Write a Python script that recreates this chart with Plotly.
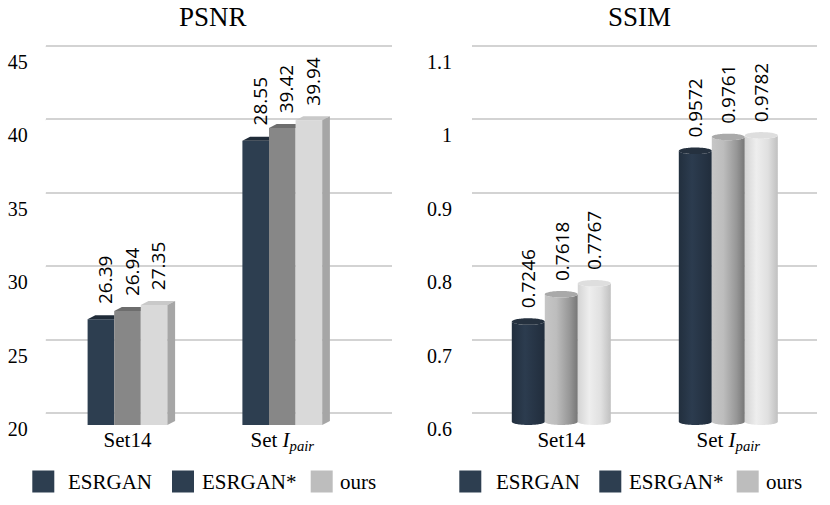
import numpy as np
import plotly.graph_objects as go

# ---------------- data ----------------
categories = ["Set14", "Set <i>I</i><sub><i>pair</i></sub>"]
series_names = ["ESRGAN", "ESRGAN*", "ours"]

psnr_esrgan = [26.39, 38.55]
psnr_esrgan_star = [26.94, 39.42]
psnr_ours = [27.35, 39.94]
psnr_label_esrgan = ["26.39", "28.55"]
psnr_label_esrgan_star = ["26.94", "39.42"]
psnr_label_ours = ["27.35", "39.94"]

ssim_esrgan = [0.7246, 0.9572]
ssim_esrgan_star = [0.7618, 0.9761]
ssim_ours = [0.7767, 0.9782]
ssim_label_esrgan = ["0.7246", "0.9572"]
ssim_label_esrgan_star = ["0.7618", "0.9761"]
ssim_label_ours = ["0.7767", "0.9782"]

psnr_ticks = [20, 25, 30, 35, 40, 45]
psnr_tick_text = ["20", "25", "30", "35", "40", "45"]
ssim_ticks = [0.6, 0.7, 0.8, 0.9, 1.0, 1.1]
ssim_tick_text = ["0.6", "0.7", "0.8", "0.9", "1", "1.1"]

# ---------------- styling / layout constants ----------------
W, H = 830, 505
PLOT_TOP, PLOT_BOT = 44, 425
L_X0, L_X1 = 45.7, 391.7
R_X0, R_X1 = 472, 817
L_SCALE = 154.8   # px per category unit (left)
R_SCALE = 167.0   # px per category unit (right)
L_CENTER0 = 127.5
R_CENTER0 = 561.3
PSNR_RANGE = [19.18, 45.14]
SSIM_RANGE = [0.5837, 1.1027]

SERIF = "Liberation Serif, Times New Roman, serif"
SANS = "Open Sans, sans-serif"
GRID = "#d3d3d3"

bar_front = ["#2d3e50", "#878787", "#d9d9d9"]
bar_top = ["#1f2b38", "#6d6d6d", "#c9c9c9"]
bar_side = "#a6a6a6"

cyl_body = [
    [[0, "#222f3e"], [0.4, "#2c3c4f"], [1, "#212d3c"]],
    [[0, "#c6c6c6"], [0.35, "#bdbdbd"], [0.75, "#979797"], [1, "#767676"]],
    [[0, "#d4d4d4"], [0.35, "#eeeeee"], [0.7, "#e0e0e0"], [1, "#c0c0c0"]],
]
cyl_top = ["#25313f", "#a9a9a9", "#dedede"]
legend_colors = ["#2d3e50", "#2d3e50", "#bdbdbd"]


def px_x_to_paper(px):
    return px / W


def px_y_to_paper(py):
    return (H - py) / H


l_range = [-(L_CENTER0 - L_X0) / L_SCALE, -(L_CENTER0 - L_X0) / L_SCALE + (L_X1 - L_X0) / L_SCALE]
r_range = [-(R_CENTER0 - R_X0) / R_SCALE, -(R_CENTER0 - R_X0) / R_SCALE + (R_X1 - R_X0) / R_SCALE]

k_psnr = (PLOT_BOT - PLOT_TOP) / (PSNR_RANGE[1] - PSNR_RANGE[0])
k_ssim = (PLOT_BOT - PLOT_TOP) / (SSIM_RANGE[1] - SSIM_RANGE[0])

fig = go.Figure()

# ---------------- PSNR: 3D box bars ----------------
psnr_series = [psnr_esrgan, psnr_esrgan_star, psnr_ours]
psnr_labels = [psnr_label_esrgan, psnr_label_esrgan_star, psnr_label_ours]
bw = 26.6 / L_SCALE
dx = 7.7 / L_SCALE
dy = 4.0 / k_psnr
xcat = list(range(len(categories)))

for i, vals in enumerate(psnr_series):
    fig.add_trace(go.Bar(
        x=xcat, y=vals, width=bw, offset=(i - 1.5) * bw,
        marker=dict(color=bar_front[i], line=dict(width=0)),
        xaxis="x", yaxis="y", showlegend=False, hoverinfo="skip",
    ))

annotations = []
for c in xcat:
    for i, vals in enumerate(psnr_series):
        v = vals[c]
        x0 = c + (i - 1.5) * bw
        x1 = x0 + bw
        last = (i == len(psnr_series) - 1)
        if not last and psnr_series[i + 1][c] >= v:
            tx = [x0, x1, x1, x0 + dx, x0]
            ty = [v, v, v + dy, v + dy, v]
        else:
            tx = [x0, x1, x1 + dx, x0 + dx, x0]
            ty = [v, v, v + dy, v + dy, v]
        fig.add_trace(go.Scatter(x=tx, y=ty, fill="toself", mode="none",
                                 fillcolor=bar_top[i], xaxis="x", yaxis="y",
                                 showlegend=False, hoverinfo="skip"))
        if last:
            sx = [x1, x1, x1 + dx, x1 + dx, x1]
            sy = [PSNR_RANGE[0], v, v + dy, PSNR_RANGE[0] + dy, PSNR_RANGE[0]]
            fig.add_trace(go.Scatter(x=sx, y=sy, fill="toself", mode="none",
                                     fillcolor=bar_side, xaxis="x", yaxis="y",
                                     showlegend=False, hoverinfo="skip"))
        annotations.append(dict(
            x=(x0 + x1) / 2, y=v, xref="x", yref="y", text=psnr_labels[i][c],
            textangle=-90, showarrow=False, xanchor="center", yanchor="bottom",
            xshift=4, yshift=13, font=dict(family=SANS, size=19, color="#000000"),
        ))

# ---------------- SSIM: cylinders ----------------
ssim_series = [ssim_esrgan, ssim_esrgan_star, ssim_ours]
ssim_labels = [ssim_label_esrgan, ssim_label_esrgan_star, ssim_label_ours]
cw = 33.0 / R_SCALE
hw = cw / 2
ry = 3.3 / k_ssim
floor = SSIM_RANGE[0] + ry
t = np.linspace(0, np.pi, 40)
t2 = np.linspace(0, 2 * np.pi, 80)

for c in xcat:
    for i, vals in enumerate(ssim_series):
        v = vals[c]
        xc = c + (i - 1) * cw
        bx = xc - hw * np.cos(t)
        by = floor - ry * np.sin(t)
        tx = xc + hw * np.cos(t)
        ty = v - ry * np.sin(t)
        xs = np.concatenate([[xc - hw], bx, tx])
        ys = np.concatenate([[v], by, ty])
        fig.add_trace(go.Scatter(
            x=xs, y=ys, fill="toself", mode="none",
            fillgradient=dict(type="horizontal", colorscale=cyl_body[i]),
            xaxis="x2", yaxis="y2", showlegend=False, hoverinfo="skip"))
        ex = xc + hw * np.cos(t2)
        ey = v + ry * np.sin(t2)
        fig.add_trace(go.Scatter(
            x=ex, y=ey, fill="toself", mode="none", fillcolor=cyl_top[i],
            xaxis="x2", yaxis="y2", showlegend=False, hoverinfo="skip"))
        annotations.append(dict(
            x=xc, y=v, xref="x2", yref="y2", text=ssim_labels[i][c],
            textangle=-90, showarrow=False, xanchor="center", yanchor="bottom",
            xshift=0, yshift=11, font=dict(family=SANS, size=19, color="#000000"),
        ))

# ---------------- titles ----------------
annotations.append(dict(x=px_x_to_paper(213), y=px_y_to_paper(17), xref="paper", yref="paper",
                        text="PSNR", showarrow=False, xanchor="center", yanchor="middle",
                        font=dict(family=SERIF, size=27, color="#000000")))
annotations.append(dict(x=px_x_to_paper(639), y=px_y_to_paper(17), xref="paper", yref="paper",
                        text="SSIM", showarrow=False, xanchor="center", yanchor="middle",
                        font=dict(family=SERIF, size=27, color="#000000")))

# ---------------- legends (one under each panel) ----------------
shapes = []
legend_layouts = [
    ([32.3, 172.0, 310.7], [66.0, 200.0, 337.5]),
    ([459.3, 599.3, 736.7], [493.5, 627.0, 763.5]),
]
for sq_x, txt_x in legend_layouts:
    for j, name in enumerate(series_names):
        shapes.append(dict(type="rect", xref="paper", yref="paper",
                           x0=px_x_to_paper(sq_x[j]), x1=px_x_to_paper(sq_x[j] + 22),
                           y0=px_y_to_paper(492.5), y1=px_y_to_paper(470.5),
                           fillcolor=legend_colors[j], line=dict(width=0)))
        annotations.append(dict(x=px_x_to_paper(txt_x[j]), y=px_y_to_paper(482), xref="paper",
                                yref="paper", text=name, showarrow=False, xanchor="left",
                                yanchor="middle", font=dict(family=SERIF, size=21, color="#000000")))

# ---------------- perspective stubs at the grid lines ----------------
for ticks, xa, ya, rng in [(psnr_ticks, "x", "y", l_range), (ssim_ticks, "x2", "y2", r_range)]:
    for tv in ticks:
        shapes.append(dict(type="line", xref=xa, yref=ya, xsizemode="pixel", ysizemode="pixel",
                           xanchor=rng[0], yanchor=tv, x0=-12.4, x1=0, y0=-9, y1=0,
                           line=dict(color=GRID, width=1.5)))

axis_common = dict(showline=False, zeroline=False, ticks="", automargin=False)
fig.update_layout(
    template="none",
    width=W, height=H,
    margin=dict(l=0, r=0, t=0, b=0, autoexpand=False),
    paper_bgcolor="white", plot_bgcolor="white",
    barmode="overlay",
    showlegend=False,
    hovermode=False,
    xaxis=dict(domain=[px_x_to_paper(L_X0), px_x_to_paper(L_X1)], range=l_range,
               tickvals=xcat, ticktext=categories, showgrid=False, anchor="y",
               tickfont=dict(family=SERIF, size=21, color="#000000"), **axis_common),
    xaxis2=dict(domain=[px_x_to_paper(R_X0), px_x_to_paper(R_X1)], range=r_range,
                tickvals=xcat, ticktext=categories, showgrid=False, anchor="y2",
                tickfont=dict(family=SERIF, size=21, color="#000000"), **axis_common),
    yaxis=dict(domain=[px_y_to_paper(PLOT_BOT), px_y_to_paper(PLOT_TOP)], range=PSNR_RANGE,
               tickvals=psnr_ticks, ticktext=psnr_tick_text, showgrid=True, gridcolor=GRID,
               gridwidth=1.5, anchor="x", ticklabelshift=16, ticklabelstandoff=17,
               tickfont=dict(family=SERIF, size=20, color="#000000"), **axis_common),
    yaxis2=dict(domain=[px_y_to_paper(PLOT_BOT), px_y_to_paper(PLOT_TOP)], range=SSIM_RANGE,
                tickvals=ssim_ticks, ticktext=ssim_tick_text, showgrid=True, gridcolor=GRID,
                gridwidth=1.5, anchor="x2", ticklabelshift=16, ticklabelstandoff=19,
                tickfont=dict(family=SERIF, size=20, color="#000000"), **axis_common),
    annotations=annotations,
    shapes=shapes,
)

fig.write_html("out.html", config={"displayModeBar": False},
               post_script="document.body.style.margin='0';")
